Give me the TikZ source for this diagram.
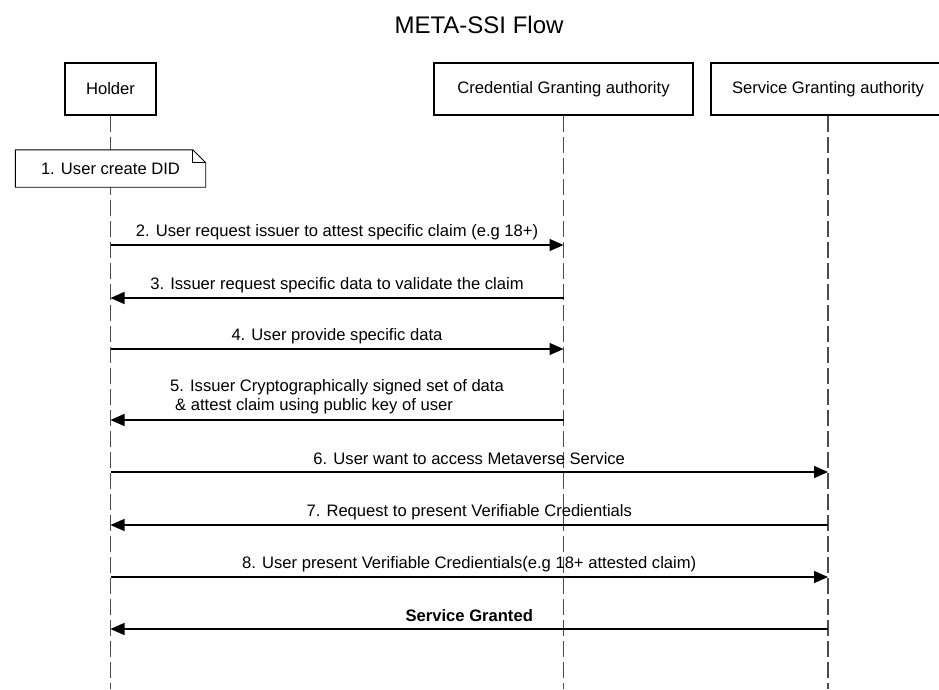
\documentclass[tikz,border=0pt]{standalone}
\usepackage{fontspec}
\setmainfont{Liberation Sans}
\usetikzlibrary{arrows.meta}

\begin{document}
\begin{tikzpicture}[x=1pt,y=-1pt,
    actor/.style={draw,line width=2.2pt,minimum height=52pt,inner sep=0pt,
        font=\fontsize{16.6}{20}\selectfont},
    life/.style={line width=1.4pt,black!70,dash pattern=on 16pt off 5pt},
    msg/.style={line width=1.3pt,-{Triangle[length=14pt,width=12pt]}},
    lbl/.style={midway,yshift=13pt,inner sep=0pt,font=\fontsize{16.6}{19}\selectfont}]
    \useasboundingbox (0,0) rectangle (939,689);
    \clip (0,0) rectangle (939,689);

    % Title
    \node (title) at (479,25) {\fontsize{24}{28}\selectfont META-SSI Flow};

    % Draw participants
    \node[actor,minimum width=91pt] (holder) at (110.5,89) {Holder};
    \node[actor,minimum width=259pt] (cred) at (563.5,89) {Credential Granting authority};
    \node[actor,minimum width=234pt] (serv) at (828,89) {Service Granting authority};

    % Draw lifelines
    \coordinate (holderEnd) at (holder.south |- 0,689);
    \coordinate (credEnd) at (cred.south |- 0,689);
    \coordinate (servEnd) at (serv.south |- 0,689);
    \draw[life] (holder.south) -- (holderEnd);
    \draw[life] (cred.south) -- (credEnd);
    \draw[life] (serv.south) -- (servEnd);

    % Note on the holder
    \node[minimum width=190pt,minimum height=37pt,inner sep=0pt,
        font=\fontsize{16.6}{20}\selectfont] (did) at (110.5,168.5) {1. User create DID};
    \filldraw[fill=white,line width=0.9pt] (did.south west) -- (did.north west)
        -- ([xshift=-13pt]did.north east) -- ([yshift=-13pt]did.north east)
        -- (did.south east) -- cycle;
    \draw[line width=0.9pt] ([xshift=-13pt]did.north east) |- ([yshift=-13pt]did.north east);
    \node[font=\fontsize{16.6}{20}\selectfont] at (did) {1. User create DID};

    % Messages
    \draw[msg] (holder |- 0,245) -- node[lbl] {2. User request issuer to attest specific claim (e.g 18+)} (cred |- 0,245);
    \draw[msg] (cred |- 0,298) -- node[lbl] {3. Issuer request specific data to validate the claim} (holder |- 0,298);
    \draw[msg] (holder |- 0,349) -- node[lbl] {4. User provide specific data} (cred |- 0,349);
    \draw[msg] (cred |- 0,420) -- node[lbl,yshift=10pt,align=left]
        {5. Issuer Cryptographically signed set of data\\\hspace{5pt}\& attest claim using public key of user} (holder |- 0,420);
    \draw[msg] (holder |- 0,472) -- node[lbl] {6. User want to access Metaverse Service} (serv |- 0,472);
    \draw[msg] (serv |- 0,525) -- node[lbl] {7. Request to present Verifiable Credientials} (holder |- 0,525);
    \draw[msg] (holder |- 0,577) -- node[lbl] {8. User present Verifiable Credientials(e.g 18+ attested claim)} (serv |- 0,577);
    \draw[msg] (serv |- 0,629) -- node[lbl,font=\fontsize{16.6}{19}\selectfont\bfseries] {Service Granted} (holder |- 0,629);

\end{tikzpicture}
\end{document}
